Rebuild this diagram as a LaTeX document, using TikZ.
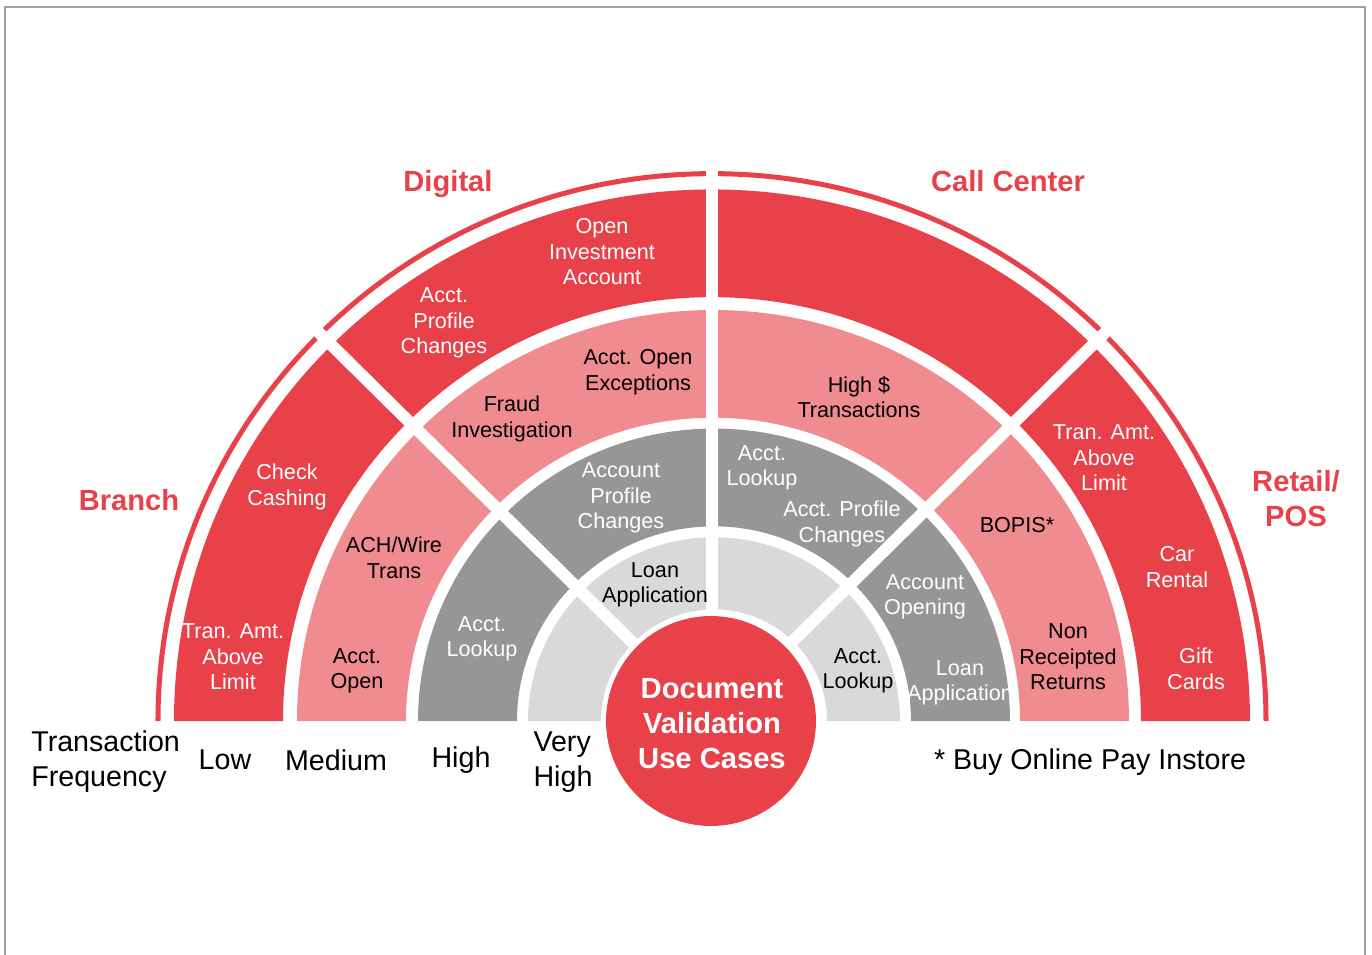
\documentclass[tikz,border=0pt]{standalone}
\usepackage{fontspec}
\setmainfont{Liberation Sans}
\definecolor{dvred}{RGB}{232,65,74}
\definecolor{dvpink}{RGB}{240,139,143}
\definecolor{dvgray}{RGB}{150,150,151}
\definecolor{dvlight}{RGB}{217,217,217}
\definecolor{framegray}{RGB}{160,160,160}

\begin{document}
\begin{tikzpicture}[x=0.02cm,y=0.02cm,
  wtxt/.style={text=white,font=\fontsize{12.3}{14.5}\selectfont,align=center,inner sep=0pt},
  btxt/.style={text=black,font=\fontsize{12.3}{14.5}\selectfont,align=center,inner sep=0pt},
  sect/.style={text=dvred,font=\bfseries\fontsize{16.6}{19.9}\selectfont,align=center,inner sep=0pt},
  freq/.style={font=\fontsize{16.3}{19.9}\selectfont,inner sep=0pt},
  gapline/.style={white,line width=6.8pt}]
  \useasboundingbox (-712,-233) rectangle (660,721);
  \clip (-712,-233) rectangle (660,721);
  \draw[framegray,line width=1.2pt] (-707,-260) rectangle (653,714);
%кольца
  \begin{scope}[yscale=0.988]
  \fill[dvred] (180:429) arc[start angle=180,end angle=0,radius=429] -- (0:538) arc[start angle=0,end angle=180,radius=538] -- cycle;
  \begin{scope}[shift={(1,0)}]
  \fill[dvpink] (180:307) arc[start angle=180,end angle=0,radius=307] -- (0:416) arc[start angle=0,end angle=180,radius=416] -- cycle;
  \end{scope}
  \begin{scope}[shift={(2,0)}]
  \fill[dvgray] (180:197) arc[start angle=180,end angle=0,radius=197] -- (0:296) arc[start angle=0,end angle=180,radius=296] -- cycle;
  \fill[dvlight] (180:113) arc[start angle=180,end angle=0,radius=113] -- (0:186) arc[start angle=0,end angle=180,radius=186] -- cycle;
  \end{scope}
  \draw[dvred,line width=2.85pt] (0:554) arc[start angle=0,end angle=180,radius=554];
%разрезы
  \draw[gapline] (0,0) -- (45:575);
  \draw[gapline] (0,0) -- (90:575);
  \draw[gapline] (0,0) -- (135:575);
  \end{scope}
  \node[circle,fill=dvred,minimum size=4.2cm,inner sep=0pt] (core) at (-1,0) {};
  \node[text=white,align=center,inner sep=0pt,
        font=\bfseries\fontsize{16.6}{19.9}\selectfont] (coretxt) at (0,-3) {Document\\Validation\\Use Cases};
%каналы
  \node[sect] (digital) at (-264,537) {Digital};
  \node[sect] (callc) at (296,540) {Call Center};
  \node[sect] (branch) at (-583,221) {Branch};
  \node[sect] (retail) at (584,222) {Retail/\\POS};
%low
  \node[wtxt] (cash) at (-425,234) {Check\\Cashing};
  \node[wtxt] (tranl) at (-479,64) {Tran. Amt.\\Above\\Limit};
  \node[wtxt] (profd) at (-268,398) {Acct.\\Profile\\Changes};
  \node[wtxt] (invest) at (-110,469) {Open\\Investment\\Account};
  \node[wtxt] (tranr) at (392,263) {Tran. Amt.\\Above\\Limit};
  \node[wtxt] (car) at (465,154) {Car\\Rental};
  \node[wtxt] (gift) at (484,52) {Gift\\Cards};
%medium
  \node[btxt] (ach) at (-318,163) {ACH/Wire\\Trans};
  \node[btxt] (openb) at (-355,50) {Acct.\\Open};
  \node[btxt] (fraud) at (-200,302) {Fraud\\Investigation};
  \node[btxt] (openex) at (-74,349) {Acct. Open\\Exceptions};
  \node[btxt] (highd) at (147,324) {High \$\\Transactions};
  \node[btxt] (bopis) at (305,196) {BOPIS*};
  \node[btxt] (nonrec) at (356,64) {Non\\Receipted\\Returns};
%high
  \node[wtxt] (lookb) at (-230,82) {Acct.\\Lookup};
  \node[wtxt] (profdg) at (-91,223) {Account\\Profile\\Changes};
  \node[wtxt] (lookc) at (50,253) {Acct.\\Lookup};
  \node[wtxt] (profc) at (130,197) {Acct. Profile\\Changes};
  \node[wtxt] (openr) at (213,124) {Account\\Opening};
  \node[wtxt] (loanr) at (248,38) {Loan\\Application};
%very high
  \node[btxt] (loand) at (-57,136) {Loan\\Application};
  \node[btxt] (lookr) at (146,50) {Acct.\\Lookup};
%шкала
  \node[freq,anchor=west,align=left] (trfreq) at (-681,-41) {Transaction\\Frequency};
  \node[freq] (low) at (-487,-39) {Low};
  \node[freq] (med) at (-376,-39) {Medium};
  \node[freq] (high) at (-251,-39) {High};
  \node[freq,align=left] (vhigh) at (-149,-41) {Very\\High};
  \node[freq] (bopisnote) at (378,-41) {* Buy Online Pay Instore};
\end{tikzpicture}
\end{document}
